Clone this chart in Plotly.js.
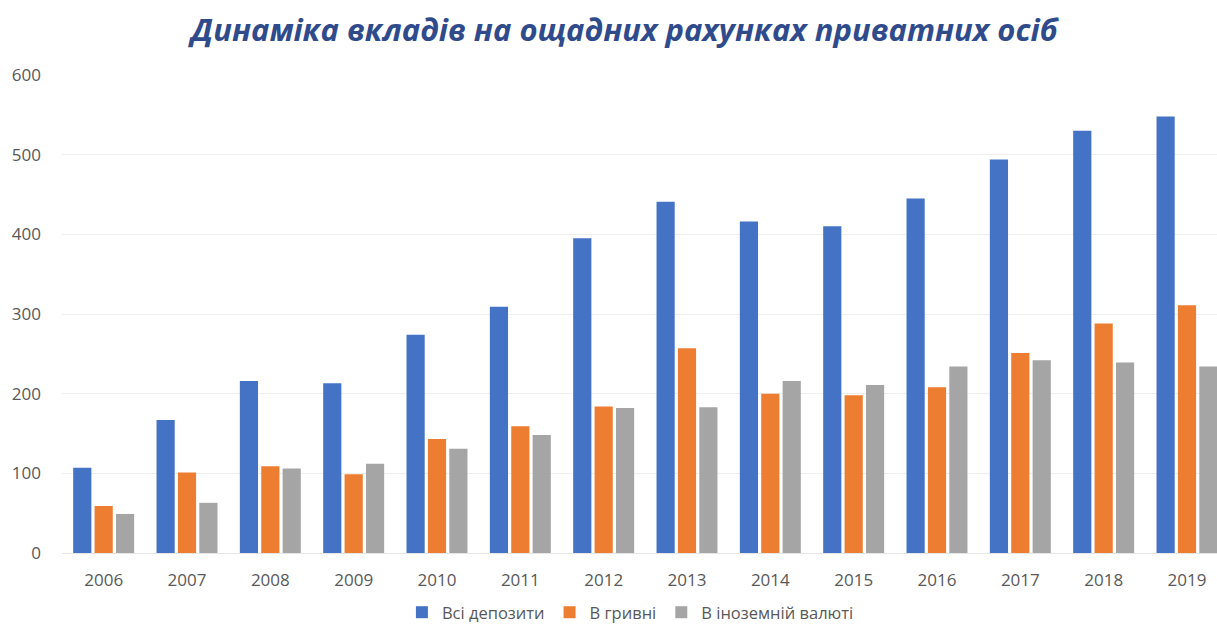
<!DOCTYPE html>
<html>
<head>
<meta charset="utf-8">
<script src="https://cdn.plot.ly/plotly-3.0.1.min.js"></script>
<style>html,body{margin:0;padding:0;background:#fff;}#chart{width:1217px;height:630px;}</style>
</head>
<body>
<div id="chart"></div>
<script>
const years = ['2006','2007','2008','2009','2010','2011','2012','2013','2014','2015','2016','2017','2018','2019'];
const allDeposits = [107, 167, 216, 213, 274, 309, 395, 441, 416, 410, 445, 494, 530, 548];
const uahDeposits = [59, 101, 109, 99, 143, 159, 184, 257, 200, 198, 208, 251, 288, 311];
const fxDeposits  = [49, 63, 106, 112, 131, 148, 182, 183, 216, 211, 234, 242, 239, 234];
const seriesNames = ['Всі депозити', 'В гривні', 'В іноземній валюті'];
const colors = ['#4472C4', '#ED7D31', '#A5A5A5'];

const traces = [allDeposits, uahDeposits, fxDeposits].map((vals, i) => ({
  type: 'bar',
  x: years,
  y: vals,
  name: seriesNames[i],
  marker: {color: colors[i]},
  hoverinfo: 'x+y+name'
}));

const layout = {
  width: 1217,
  height: 630,
  paper_bgcolor: '#ffffff',
  plot_bgcolor: '#ffffff',
  margin: {l: 62, r: 0, t: 75, b: 77, autoexpand: false},
  font: {family: 'Open Sans, sans-serif', color: '#595959', size: 17},
  title: {
    text: 'Динаміка вкладів на ощадних рахунках приватних осіб',
    font: {family: 'Open Sans, sans-serif', size: 31, color: '#2F4B8C', weight: 'bold', style: 'italic'},
    x: 0.513, xanchor: 'center', y: 0.952, yanchor: 'middle'
  },
  barmode: 'group',
  bargap: 0.23,
  bargroupgap: 0.15,
  xaxis: {
    type: 'category',
    range: [-0.5, 13.36],
    showgrid: false,
    zeroline: false,
    showline: true,
    linecolor: '#e6e6e6',
    linewidth: 1,
    ticks: '',
    tickfont: {size: 17, color: '#595959'},
    ticklabelstandoff: 12,
    fixedrange: true
  },
  yaxis: {
    range: [0, 600],
    tickvals: [0, 100, 200, 300, 400, 500, 600],
    showgrid: true,
    gridcolor: '#eeeeee',
    gridwidth: 1,
    zeroline: false,
    showline: false,
    ticks: '',
    tickfont: {size: 17, color: '#595959'},
    ticklabelstandoff: 20,
    fixedrange: true
  },
  showlegend: true,
  legend: {
    orientation: 'h',
    xref: 'container', yref: 'container',
    x: 0.518, xanchor: 'center',
    y: 0, yanchor: 'bottom',
    font: {size: 16.5, color: '#595959'},
    itemwidth: 30,
    traceorder: 'normal'
  }
};

Plotly.newPlot('chart', traces, layout, {displayModeBar: false, staticPlot: true});
</script>
</body>
</html>
